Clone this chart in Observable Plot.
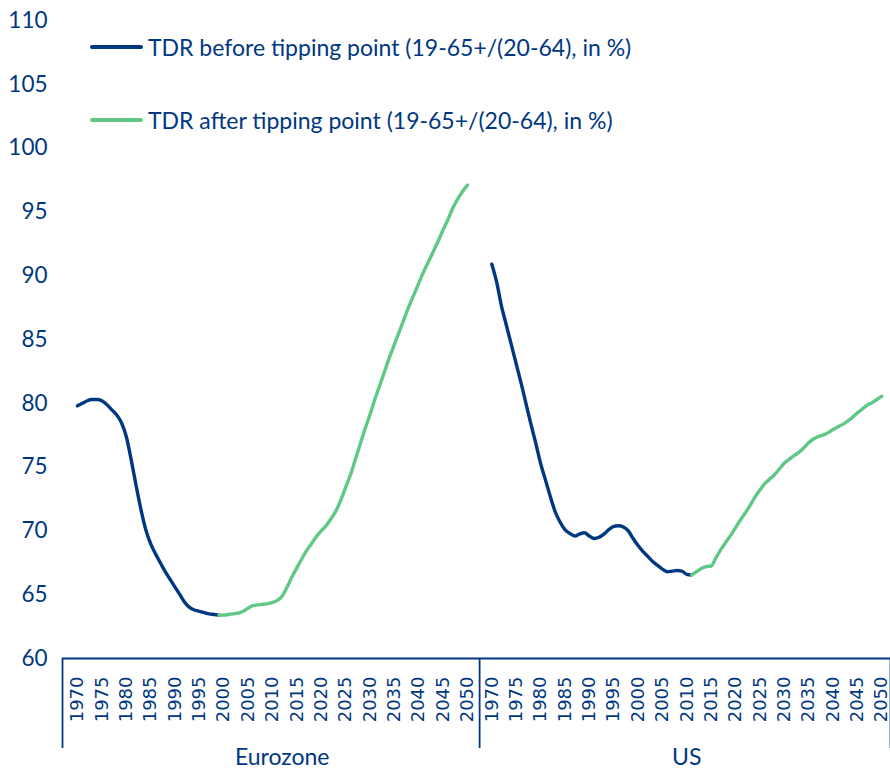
<!DOCTYPE html>
<html><head><meta charset="utf-8">
<script src="https://cdn.jsdelivr.net/npm/d3@7"></script>
<script src="https://cdn.jsdelivr.net/npm/@observablehq/plot@0.6"></script>
<style>
body{margin:0;background:#fff;}
#wrap{position:relative;width:890px;height:769px;}
.legend{position:absolute;left:90px;font-family:Lato,"Noto Sans",sans-serif;font-size:23px;color:#003781;display:flex;align-items:center;height:30px;white-space:nowrap;}
.sw{width:53px;height:4px;border-radius:2px;margin-right:5px;}
</style></head><body>
<div id="wrap"></div>
<script>
// Categories
const groups = ["Eurozone", "US"];
const seriesNames = ["TDR before tipping point (19-65+/(20-64), in %)", "TDR after tipping point (19-65+/(20-64), in %)"];
const yTicks = [60, 65, 70, 75, 80, 85, 90, 95, 100, 105, 110];
const xTickYears = [1970, 1975, 1980, 1985, 1990, 1995, 2000, 2005, 2010, 2015, 2020, 2025, 2030, 2035, 2040, 2045, 2050];

// Eurozone, before tipping point: 1970..1999
const ezBeforeStart = 1970;
const ezBefore = [79.8, 80.0, 80.2, 80.3, 80.3, 80.2, 79.9, 79.5, 79.1, 78.5,
  77.4, 75.6, 73.6, 71.7, 70.1, 69.0, 68.2, 67.5, 66.8, 66.2,
  65.6, 65.0, 64.4, 64.0, 63.8, 63.7, 63.6, 63.5, 63.45, 63.4];
// Eurozone, after tipping point: 1999..2050
const ezAfterStart = 1999;
const ezAfter = [63.4, 63.4, 63.45, 63.5, 63.55, 63.7, 63.95, 64.15, 64.2, 64.25,
  64.3, 64.4, 64.55, 64.9, 65.6, 66.4, 67.1, 67.8, 68.45, 69.0,
  69.55, 70.0, 70.4, 70.95, 71.55, 72.4, 73.4, 74.4, 75.6, 76.8,
  78.0, 79.1, 80.3, 81.4, 82.5, 83.6, 84.6, 85.6, 86.6, 87.6,
  88.5, 89.4, 90.3, 91.1, 91.9, 92.7, 93.6, 94.4, 95.3, 96.0,
  96.6, 97.1];
// US, before tipping point: 1970..2011
const usBeforeStart = 1970;
const usBefore = [90.9, 89.5, 87.6, 86.1, 84.6, 83.1, 81.6, 80.0, 78.4, 76.9,
  75.3, 74.0, 72.7, 71.5, 70.7, 70.1, 69.8, 69.6, 69.75, 69.85,
  69.6, 69.4, 69.5, 69.75, 70.1, 70.35, 70.4, 70.3, 70.0, 69.4,
  68.85, 68.4, 68.0, 67.6, 67.3, 67.0, 66.8, 66.85, 66.9, 66.85,
  66.6, 66.55];
// US, after tipping point: 2011..2050
const usAfterStart = 2011;
const usAfter = [66.55, 66.8, 67.05, 67.2, 67.25, 67.9, 68.55, 69.1, 69.65, 70.25,
  70.85, 71.4, 72.0, 72.65, 73.2, 73.7, 74.05, 74.4, 74.85, 75.3,
  75.6, 75.9, 76.15, 76.5, 76.9, 77.2, 77.4, 77.5, 77.7, 77.95,
  78.15, 78.35, 78.6, 78.9, 79.25, 79.55, 79.85, 80.05, 80.3, 80.55];

const blue = "#003781";
const green = "#5FC886";
const baseYear = 1970;
const usOffset = 85;           // gap between the two category groups
const offsetOf = g => g === "US" ? usOffset : 0;

function rows(group, phase, start, values) {
  return values.map((v, i) => ({group, phase, year: start + i, value: v, pos: offsetOf(group) + start + i - baseYear}));
}
const data = [
  ...rows("Eurozone", "before", ezBeforeStart, ezBefore),
  ...rows("Eurozone", "after", ezAfterStart, ezAfter),
  ...rows("US", "before", usBeforeStart, usBefore),
  ...rows("US", "after", usAfterStart, usAfter)
];

const tickPositions = groups.flatMap(g => xTickYears.map(y => offsetOf(g) + y - baseYear));
const tickLabel = p => String(p >= usOffset - 3 ? p - usOffset + baseYear : p + baseYear);
const xMin = -3.08, xMax = usOffset + 80 + 1.8;
const separators = [xMin, (80 + usOffset) / 2, xMax];
const groupLabels = groups.map(g => ({name: g, pos: offsetOf(g) + 40 + (g === "Eurozone" ? 2 : 0)}));

const chart = Plot.plot({
  width: 890,
  height: 769,
  marginLeft: 62,
  marginRight: 0,
  marginTop: 20,
  marginBottom: 111,
  style: {color: blue, background: "#fff", overflow: "visible"},
  x: {domain: [xMin, xMax]},
  y: {domain: [60, 110]},
  color: {domain: ["before", "after"], range: [blue, green]},
  marks: [
    Plot.axisY(yTicks, {tickSize: 0, tickPadding: 15, fontSize: 22.5, fontFamily: "Lato", label: null, fill: blue}),
    Plot.axisX(tickPositions, {tickFormat: tickLabel, tickRotate: -90, tickSize: 0, tickPadding: 18, fontSize: 18, fontFamily: "DejaVu Sans", label: null, fill: blue}),
    Plot.ruleY([60], {stroke: blue, strokeWidth: 1.8}),
    Plot.ruleX(separators, {x: d => d, y1: 60, y2: 60, insetBottom: -90, stroke: blue, strokeWidth: 1.8}),
    Plot.text(groupLabels, {x: "pos", y: 60, dy: 99, text: "name", fontSize: 23, fontFamily: "Lato", fill: blue}),
    Plot.line(data, {x: "pos", y: "value", stroke: "phase", z: d => d.group + d.phase, strokeWidth: 3.4, curve: "monotone-x", strokeLinecap: "round", strokeLinejoin: "round"})
  ]
});

const wrap = document.getElementById("wrap");
wrap.appendChild(chart);
const colors = [blue, green];
const tops = [32, 105];
seriesNames.forEach((name, i) => {
  const div = document.createElement("div");
  div.className = "legend";
  div.style.top = tops[i] + "px";
  const sw = document.createElement("span");
  sw.className = "sw";
  sw.style.background = colors[i];
  const tx = document.createElement("span");
  tx.textContent = name;
  div.appendChild(sw);
  div.appendChild(tx);
  wrap.appendChild(div);
});
</script>
</body></html>
